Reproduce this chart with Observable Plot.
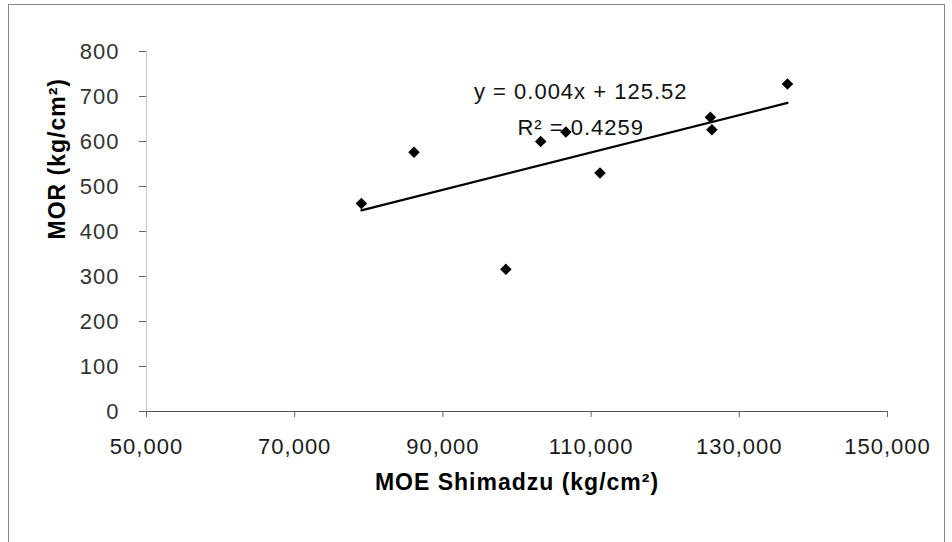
<!DOCTYPE html>
<html>
<head>
<meta charset="utf-8">
<script src="https://cdn.jsdelivr.net/npm/d3@7"></script>
<script src="https://cdn.jsdelivr.net/npm/@observablehq/plot@0.6"></script>
<style>
  html, body { margin: 0; padding: 0; background: #fff; }
  #wrap { position: relative; width: 952px; height: 542px; overflow: hidden; }
  #border { position: absolute; left: 8px; top: 4px; width: 937px; height: 600px; border: 1px solid #8a8a8a; box-sizing: border-box; pointer-events: none; }
  svg text { letter-spacing: 1px; }
</style>
</head>
<body>
<div id="wrap"><div id="border"></div></div>
<script>
// MOE Shimadzu (kg/cm²) values
const moe = [79000, 86100, 98500, 103200, 106600, 111200, 126100, 126300, 136500];
// MOR (kg/cm²) values
const mor = [462, 576, 316, 600, 621, 530, 654, 626, 728];
// tick values
const xTicks = [50000, 70000, 90000, 110000, 130000, 150000];
const yTicks = [0, 100, 200, 300, 400, 500, 600, 700, 800];
// trendline annotation
const equationText = ["y = 0.004x + 125.52", "R\u00B2 = 0.4259"];
const equationX = 108600;
const equationY = [709, 631];

const points = moe.map((x, i) => ({x, y: mor[i]}));
const notes = equationText.map((t, i) => ({t, x: equationX, y: equationY[i]}));

const chart = Plot.plot({
  width: 952,
  height: 542,
  marginLeft: 146,
  marginRight: 65,
  marginTop: 51,
  marginBottom: 131,
  style: {fontFamily: "'Liberation Sans', Arial, sans-serif", fontSize: "22px", background: "transparent", color: "#1a1a1a", overflow: "visible"},
  x: {domain: [50000, 150000]},
  y: {domain: [0, 800]},
  marks: [
    Plot.ruleX([50000], {stroke: "#c4c4c4", strokeWidth: 1}),
    Plot.ruleY([0], {stroke: "#555", strokeWidth: 1.2, inset: 0}),
    Plot.axisX({ticks: xTicks, tickFormat: d3.format(","), tickSize: 6, tickPadding: 21, label: null, stroke: "#666"}),
    Plot.axisY({ticks: yTicks, tickSize: 7, tickPadding: 20, label: null, stroke: "#666", fill: "#333"}),
    Plot.linearRegressionY(points, {x: "x", y: "y", stroke: "#000", strokeWidth: 2.3, ci: 0}),
    Plot.dot(points, {x: "x", y: "y", symbol: "diamond2", r: 5.2, fill: "#000", stroke: "none"}),
    Plot.text(notes, {x: "x", y: "y", text: "t", fontSize: 22, fill: "#111", textAnchor: "middle"}),
    Plot.text(["MOE Shimadzu (kg/cm\u00B2)"], {frameAnchor: "bottom", dy: 78, fontSize: 23, fontWeight: "bold", fill: "#000"}),
    Plot.text(["MOR (kg/cm\u00B2)"], {frameAnchor: "left", dx: -89, dy: 8, rotate: -90, fontSize: 23, fontWeight: "bold", fill: "#000"})
  ]
});
document.getElementById("wrap").appendChild(chart);
</script>
</body>
</html>
